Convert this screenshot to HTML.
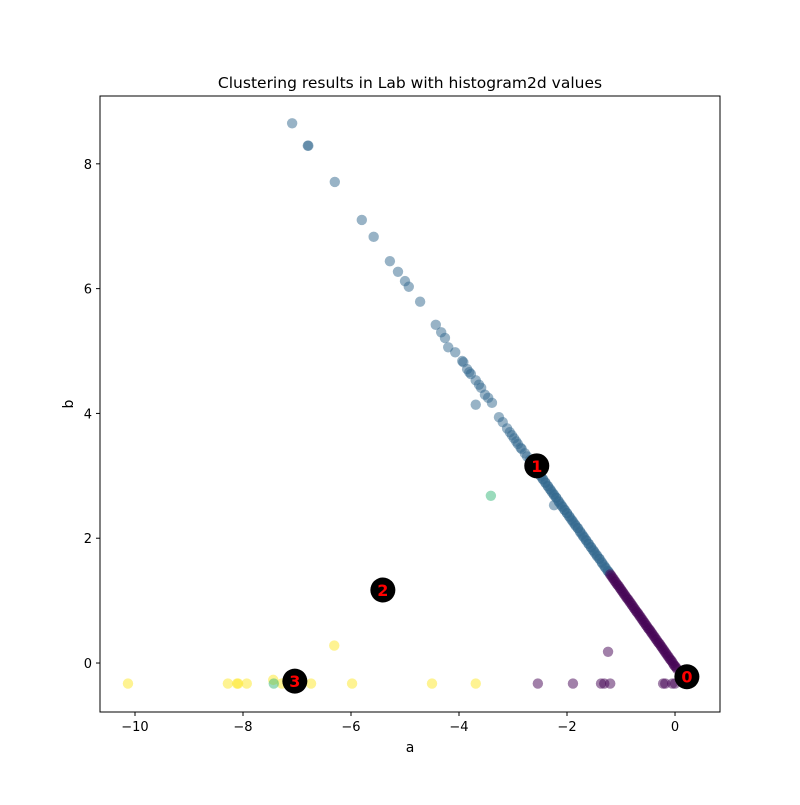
<!DOCTYPE html>
<html><head><meta charset="utf-8"><style>
body{margin:0;background:#fff}
svg text{font-family:"DejaVu Sans","Liberation Sans",sans-serif}
</style></head><body>
<svg id="chart" width="800" height="800" viewBox="0 0 800 800">
<rect width="800" height="800" fill="#fff"/>
<text x="410" y="88" text-anchor="middle" font-size="15.5">Clustering results in Lab with histogram2d values</text>
<g id="marks"></g>
<rect x="100" y="96" width="620" height="616" fill="none" stroke="#000" stroke-width="1"/>
<g id="axes"></g>
<text x="410" y="752" text-anchor="middle" font-size="14">a</text>
<text x="73" y="404" text-anchor="middle" font-size="14" transform="rotate(-90 73 404)">b</text>
</svg>
<script>
const xTicks=[-10,-8,-6,-4,-2,0];
const yTicks=[0,2,4,6,8];
const c0a=[-1.2,-1.18,-1.16,-1.14,-1.12,-1.1,-1.08,-1.06,-1.04,-1.02,-1.0,
-0.98,-0.96,-0.94,-0.92,-0.9,-0.88,-0.86,-0.84,-0.82,-0.8,
-0.78,-0.76,-0.74,-0.72,-0.7,-0.68,-0.66,-0.64,-0.62,-0.6,
-0.58,-0.56,-0.54,-0.52,-0.5,-0.48,-0.46,-0.44,-0.42,-0.4,
-0.38,-0.36,-0.34,-0.32,-0.3,-0.28,-0.26,-0.24,-0.22,-0.2,
-0.18,-0.16,-0.14,-0.12,-0.1,-0.08,-0.06,-0.04,-0.02,0,0.02,0.04,
-2.54,-1.89,-1.37,-1.31,-1.2,-1.24,-0.22,-0.18,-0.05,0.0];
const c0b=[1.42,1.40,1.37,1.35,1.32,1.30,1.27,1.25,1.23,1.20,1.18,
1.15,1.13,1.10,1.08,1.05,1.03,1.01,0.98,0.96,0.93,
0.91,0.88,0.86,0.83,0.81,0.79,0.76,0.74,0.71,0.69,
0.66,0.64,0.61,0.59,0.56,0.54,0.52,0.49,0.47,0.44,
0.42,0.39,0.37,0.34,0.32,0.30,0.27,0.25,0.22,0.20,
0.17,0.15,0.12,0.10,0.07,0.05,0.03,0.0,-0.03,-0.05,-0.07,-0.10,
-0.33,-0.33,-0.33,-0.33,-0.33,0.18,-0.33,-0.33,-0.33,-0.33];
const c1a=[-7.09,-6.8,-6.79,-6.3,-5.8,-5.58,-5.28,-5.13,-5.0,-4.93,-4.72,-4.43,-4.33,-4.26,-4.2,-4.07,-3.94,-3.92,-3.85,-3.81,-3.78,-3.69,-3.63,-3.59,-3.69,-3.52,-3.46,-3.39,-3.26,-3.19,-3.11,-3.06,-2.98,-2.91,-2.84,-2.78,-2.69,-2.62,-2.56,-2.5,-2.45,-2.4,-2.35,-2.3,-2.25,-2.2,-2.15,-2.1,-2.05,-2.0,-1.95,-1.9,-1.85,-1.8,-1.75,-1.7,-1.65,-1.6,-1.55,-1.5,-1.45,-1.4,-1.35,-1.3,-1.25,-1.22,-2.24,
-2.48,-2.44,-2.40,-2.36,-2.32,-2.28,-2.24,-2.20,-2.16,-2.12,-2.08,-2.04,-2.00,-1.96,-1.92,-1.88,-1.84,-1.80,-1.76,-1.72,-1.68,-1.64,-1.60,-1.56,-1.52,-1.48,-1.44,-1.40,-1.36,-1.32,-1.28,-1.24,
-3.02,-2.94,-2.86,-2.74,-2.66,-2.58,-2.52];
const c1b=[8.65,8.29,8.29,7.71,7.1,6.83,6.44,6.27,6.12,6.03,5.79,5.42,5.3,5.21,5.06,4.98,4.84,4.82,4.71,4.66,4.63,4.53,4.46,4.41,4.14,4.3,4.25,4.17,3.94,3.86,3.76,3.7,3.6,3.51,3.43,3.36,3.25,3.16,3.09,3.01,2.95,2.89,2.83,2.77,2.71,2.65,2.58,2.52,2.46,2.4,2.34,2.28,2.22,2.16,2.09,2.03,1.97,1.91,1.85,1.79,1.73,1.67,1.6,1.54,1.48,1.45,2.53,
2.99,2.94,2.89,2.84,2.79,2.74,2.69,2.65,2.60,2.55,2.50,2.45,2.40,2.35,2.30,2.25,2.20,2.16,2.11,2.06,2.01,1.96,1.91,1.86,1.81,1.76,1.71,1.67,1.62,1.57,1.52,1.47,
3.65,3.55,3.45,3.31,3.21,3.11,3.04];
const c2a=[-3.41,-7.43];
const c2b=[2.68,-0.33];
const c3a=[-10.13,-8.28,-8.11,-8.09,-7.93,-7.44,-7.28,-6.74,-6.31,-5.98,-4.5,-3.69,-7.1];
const c3b=[-0.33,-0.33,-0.33,-0.33,-0.33,-0.27,-0.33,-0.33,0.28,-0.33,-0.33,-0.33,-0.33];
const centerA=[0.22,-2.56,-5.41,-7.04];
const centerB=[-0.22,3.16,1.17,-0.29];
const centerLabels=["0","1","2","3"];
const colors=["#440154","#31688e","#35b779","#fde725"];
const X0=-10.648,X1=0.833,Y0=-0.785,Y1=9.087;
function sx(v){return 100+(v-X0)/(X1-X0)*620;}
function sy(v){return 712-(v-Y0)/(Y1-Y0)*616;}
const NS="http://www.w3.org/2000/svg";
const marks=document.getElementById('marks'),axes=document.getElementById('axes');
function mk(tag,attrs,parent){const e=document.createElementNS(NS,tag);for(const k in attrs)e.setAttribute(k,attrs[k]);parent.appendChild(e);return e;}
[[c3a,c3b,3],[c2a,c2b,2],[c1a,c1b,1],[c0a,c0b,0]].forEach(([A,B,ci])=>{
  A.forEach((a,i)=>{
    const c=mk('circle',{cx:sx(a),cy:sy(B[i]),r:5.2,fill:colors[ci],'fill-opacity':0.5},marks);
    
    
  });
});
centerA.forEach((a,i)=>{
  const c=mk('circle',{cx:sx(a),cy:sy(centerB[i]),r:12.5,fill:'#000'},marks);
  
  
  const t=mk('text',{x:sx(a),y:sy(centerB[i])+6,'text-anchor':'middle','font-size':16,'font-weight':'bold',fill:'#f00'},marks);
  t.textContent=centerLabels[i];
  
  
});
xTicks.forEach(v=>{
  const x=sx(v);
  const l=mk('line',{x1:x,x2:x,y1:712,y2:716,stroke:'#000'},axes);
  
  
  const t=mk('text',{x:x,y:731,'text-anchor':'middle','font-size':13},axes);
  t.textContent=(v<0?'\u2212'+(-v):v);
  
  
});
yTicks.forEach(v=>{
  const y=sy(v);
  const l=mk('line',{x1:96,x2:100,y1:y,y2:y,stroke:'#000'},axes);
  
  
  const t=mk('text',{x:92,y:y+5,'text-anchor':'end','font-size':13},axes);
  t.textContent=v;
  
  
});
</script>
</body></html>
